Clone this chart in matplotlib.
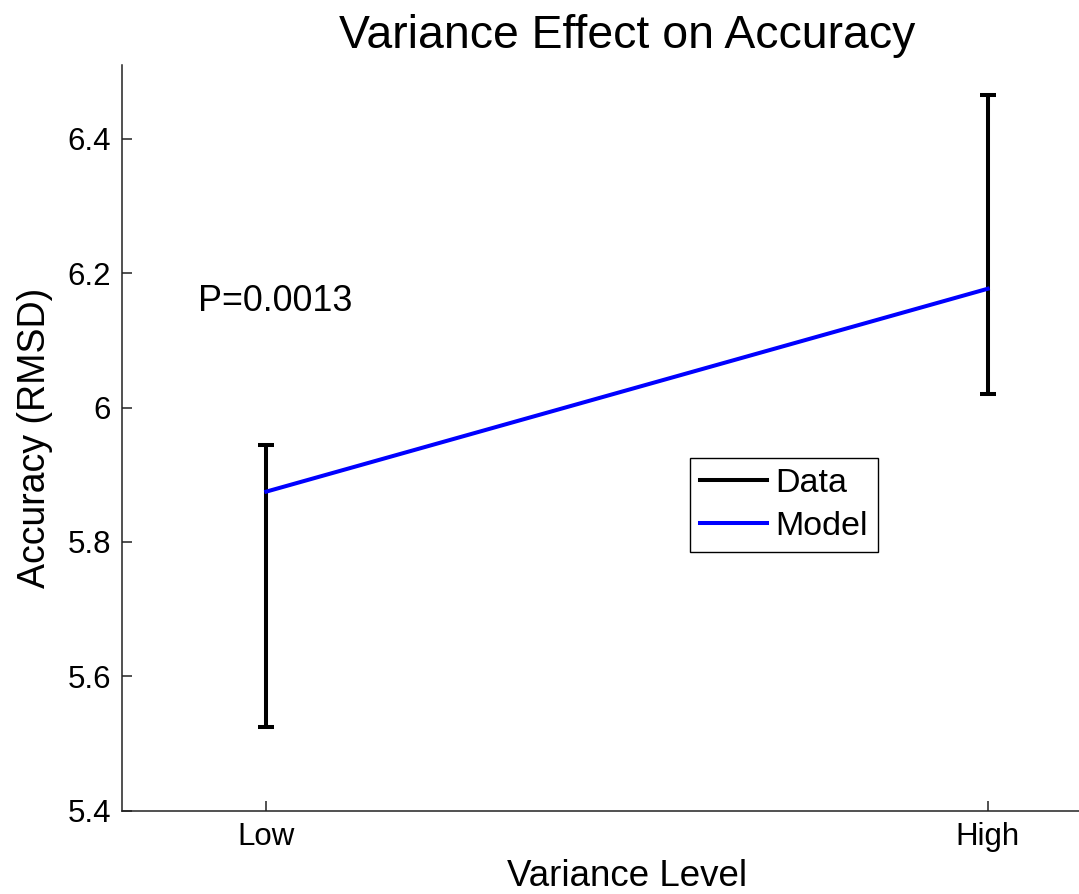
import numpy as np
import matplotlib
matplotlib.use('Agg')
import matplotlib.pyplot as plt
from matplotlib.lines import Line2D

plt.rcParams['font.family'] = ['Liberation Sans', 'DejaVu Sans']

# values
levels = ['Low', 'High']
x_pos = [1, 2]
data_lower = [5.525, 6.021]   # bottom of error bar
data_upper = [5.944, 6.465]   # top of error bar
model_acc = [5.875, 6.177]
p_text = 'P=0.0013'

data_lower = np.array(data_lower)
data_upper = np.array(data_upper)
data_mid = (data_lower + data_upper) / 2
data_err = (data_upper - data_lower) / 2

fig = plt.figure(figsize=(10.79, 8.94), dpi=100)
ax = fig.add_axes([0.1131, 0.0932, 0.936, 0.834])

# error bars for the data (no connecting line visible in the original)
ax.errorbar(x_pos, data_mid, yerr=data_err, fmt='none', ecolor='black',
            elinewidth=2.9, capsize=5.5, capthick=2.9, zorder=2)
ax.plot(x_pos, model_acc, color='blue', linewidth=2.9, zorder=3)

ax.text(0.905, 6.158, p_text, fontsize=25.8, ha='left', va='center')

ax.set_xlim(0.8, 2.2)
ax.set_ylim(5.4, 6.51)
ax.set_xticks(x_pos)
ax.set_xticklabels(levels)
ax.set_yticks([5.4, 5.6, 5.8, 6.0, 6.2, 6.4])
ax.set_yticklabels(['5.4', '5.6', '5.8', '6', '6.2', '6.4'])

ax.spines['top'].set_visible(False)
ax.spines['right'].set_visible(False)
for s in ['left', 'bottom']:
    ax.spines[s].set_linewidth(1.1)
    ax.spines[s].set_color('#222222')
ax.tick_params(direction='in', length=7, width=1.1, color='#222222',
               labelsize=22.5, pad=8)

ax.set_title('Variance Effect on Accuracy', fontsize=33.4, pad=12)
ax.set_xlabel('Variance Level', fontsize=26.5, labelpad=5)
ax.set_ylabel('Accuracy (RMSD)', fontsize=27, labelpad=10)

handles = [Line2D([], [], color='black', linewidth=2.9),
           Line2D([], [], color='blue', linewidth=2.9)]
leg = fig.legend(handles, ['Data', 'Model'], loc='upper left',
                 bbox_to_anchor=(690 / 1079, 1 - 458 / 894), fontsize=24.5,
                 fancybox=False, edgecolor='black', framealpha=1,
                 handlelength=1.95, handletextpad=0.25, borderpad=0.3,
                 labelspacing=0.35, borderaxespad=0)
leg.get_frame().set_linewidth(1.0)

fig.savefig('out.png', dpi=100)
